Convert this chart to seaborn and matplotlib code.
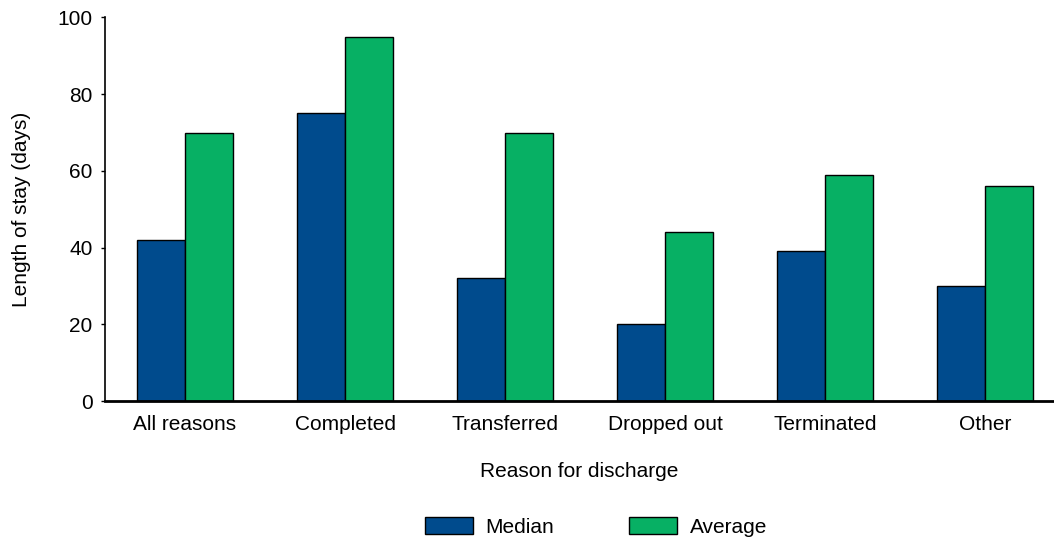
import pandas as pd
import seaborn as sns
import matplotlib.pyplot as plt

# Chart values
categories = ['All reasons', 'Completed', 'Transferred', 'Dropped out', 'Terminated', 'Other']
median_days = [42, 75, 32, 20, 39, 30]
average_days = [70, 95, 70, 44, 59, 56]
series_names = ['Median', 'Average']
y_ticks = [0, 20, 40, 60, 80, 100]

colors = ['#004B8D', '#07B064']

sns.set_theme(style='white')
plt.rcParams['font.family'] = ['Liberation Sans', 'DejaVu Sans']
plt.rcParams['text.color'] = 'black'
plt.rcParams['axes.labelcolor'] = 'black'
plt.rcParams['xtick.color'] = 'black'
plt.rcParams['ytick.color'] = 'black'

# Long-form table for seaborn
df = pd.DataFrame({
    'Reason': categories * 2,
    'Series': [series_names[0]] * len(categories) + [series_names[1]] * len(categories),
    'Days': median_days + average_days,
})

fig = plt.figure(figsize=(10.54, 5.40), dpi=100)
ax = fig.add_axes([0.0996, 0.2574, 0.9004, 0.7102])

sns.barplot(data=df, x='Reason', y='Days', hue='Series', order=categories,
            hue_order=series_names, palette=colors, width=0.6,
            edgecolor='black', linewidth=1, saturation=1, ax=ax)

ax.set_xlim(-0.5, 5.43)
ax.set_ylim(0, 100)
ax.set_yticks(y_ticks)
ax.tick_params(axis='y', length=3, width=1, labelsize=15, direction='out', pad=6, left=True)
ax.tick_params(axis='x', length=0, labelsize=15, pad=10)

for side in ['top', 'right']:
    ax.spines[side].set_visible(False)
ax.spines['left'].set_linewidth(1.2)
ax.spines['left'].set_color('black')
ax.spines['bottom'].set_linewidth(2)
ax.spines['bottom'].set_color('black')

ax.set_xlabel('Reason for discharge', fontsize=15, labelpad=20)
ax.set_ylabel('Length of stay (days)', fontsize=15, labelpad=19)

ax.legend_.remove()
handles, labels = ax.get_legend_handles_labels()
fig.legend(handles, labels, loc='center', bbox_to_anchor=(596 / 1054, 1 - 527 / 540),
           ncol=2, frameon=False, fontsize=15, handlelength=2.3, handleheight=0.85,
           handletextpad=0.6, columnspacing=3.6)

fig.savefig('out.png', dpi=100)
